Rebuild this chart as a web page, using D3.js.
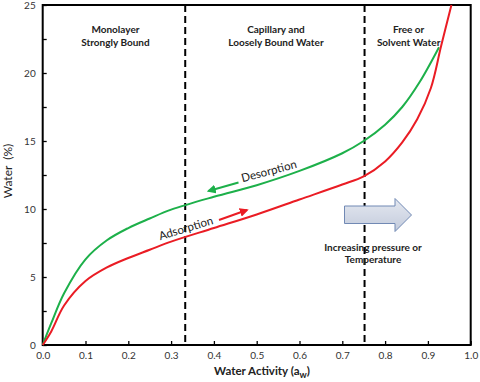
<!DOCTYPE html>
<html>
<head>
<meta charset="utf-8">
<script src="https://cdn.jsdelivr.net/npm/d3@7"></script>
<style>
  body { margin: 0; background: #fff; }
  svg text { font-family: Lato, "Open Sans", sans-serif; }
</style>
</head>
<body>
<div id="chart"></div>
<script>
// water activity (x) and moisture content (%)
let desorptionAw  = [0, 0.02, 0.05, 0.1, 0.15, 0.2, 0.25, 0.3, 0.4, 0.5, 0.6, 0.7, 0.75, 0.8, 0.84, 0.88, 0.926];
let desorptionWater = [0, 1.6, 3.8, 6.3, 7.7, 8.6, 9.3, 9.95, 10.9, 11.75, 12.8, 14.1, 15.0, 16.2, 17.5, 19.3, 21.9];

let adsorptionAw  = [0, 0.02, 0.05, 0.1, 0.15, 0.2, 0.25, 0.3, 0.4, 0.5, 0.6, 0.7, 0.75, 0.8, 0.84, 0.875, 0.907, 0.931, 0.955];
let adsorptionWater = [0, 1.0, 2.9, 4.7, 5.7, 6.4, 7.0, 7.6, 8.6, 9.6, 10.7, 11.8, 12.4, 13.5, 14.9, 16.6, 18.9, 22.0, 25];

let xTicks = [0, 0.1, 0.2, 0.3, 0.4, 0.5, 0.6, 0.7, 0.8, 0.9, 1.0];
let yTicks = [0, 2.5, 5, 7.5, 10, 12.5, 15, 17.5, 20, 22.5, 25];
let zoneBounds = [0.333, 0.752];

let zoneLabels = [
  {aw: 0.17, lines: ["Monolayer", "Strongly Bound"]},
  {aw: 0.545, lines: ["Capillary and", "Loosely Bound Water"]},
  {aw: 0.855, lines: ["Free or", "Solvent Water"]}
];

const W = 480, H = 382;
const m = {left: 42.7, right: 9.3, top: 5, bottom: 37};

let svg = d3.select("#chart").append("svg").attr("width", W).attr("height", H);

let x = d3.scaleLinear().domain([0, 1]).range([m.left, W - m.right]);
let y = d3.scaleLinear().domain([0, 25]).range([H - m.bottom, m.top]);

//axes with inward ticks
let xAxis = svg.append("g").attr("transform", `translate(0,${y(0)})`)
  .call(d3.axisBottom(x).tickValues(xTicks).tickFormat(d3.format(".1f")).tickSize(-4).tickPadding(7));
let yAxis = svg.append("g").attr("transform", `translate(${x(0)},0)`)
  .call(d3.axisLeft(y).tickValues(yTicks).tickFormat(d => d % 5 === 0 ? d : "").tickSize(-4).tickPadding(7));

[xAxis, yAxis].forEach(g => {
  g.select(".domain").remove();
  g.selectAll(".tick line").attr("stroke", "#000").attr("stroke-width", 1.3);
  g.selectAll(".tick text").attr("fill", "#333").style("font-size", "10px").style("font-family", "Lato, sans-serif");
});

// frame
svg.append("rect")
  .attr("x", x(0)).attr("y", y(25))
  .attr("width", x(1) - x(0)).attr("height", y(0) - y(25))
  .attr("fill", "none").attr("stroke", "#000").attr("stroke-width", 2);

// zone dividers
svg.selectAll(".zone").data(zoneBounds).enter().append("line")
  .attr("x1", d => x(d)).attr("x2", d => x(d))
  .attr("y1", y(25)).attr("y2", y(0))
  .attr("stroke", "#000").attr("stroke-width", 2).attr("stroke-dasharray", "7,4");

let line = d3.line().x(d => x(d[0])).y(d => y(d[1])).curve(d3.curveCatmullRom.alpha(0.5));

svg.append("path")
  .datum(d3.zip(desorptionAw, desorptionWater))
  .attr("d", line).attr("fill", "none").attr("stroke", "#1db04a").attr("stroke-width", 2);

svg.append("path")
  .datum(d3.zip(adsorptionAw, adsorptionWater))
  .attr("d", line).attr("fill", "none").attr("stroke", "#ea1c24").attr("stroke-width", 2);

// zone labels
zoneLabels.forEach(z => {
  let t = svg.append("text").attr("text-anchor", "middle")
    .style("font-size", "10px").style("font-weight", "bold").attr("fill", "#222");
  z.lines.forEach((s, i) => {
    t.append("tspan").attr("x", x(z.aw)).attr("y", 33 + i * 12.7).text(s);
  });
});

// small direction arrows
let defs = svg.append("defs");
[["green", "#1db04a"], ["red", "#ea1c24"]].forEach(([id, c]) => {
  defs.append("marker").attr("id", "head-" + id)
    .attr("viewBox", "0 0 10 10").attr("refX", 8).attr("refY", 5)
    .attr("markerWidth", 4.5).attr("markerHeight", 4.5).attr("orient", "auto")
    .append("path").attr("d", "M0,0L10,5L0,10z").attr("fill", c);
});

svg.append("line")
  .attr("x1", 238.5).attr("y1", 182.5).attr("x2", 208.5).attr("y2", 191)
  .attr("stroke", "#1db04a").attr("stroke-width", 2).attr("marker-end", "url(#head-green)");
svg.append("line")
  .attr("x1", 219).attr("y1", 220).attr("x2", 247).attr("y2", 210)
  .attr("stroke", "#ea1c24").attr("stroke-width", 2).attr("marker-end", "url(#head-red)");

svg.append("text").attr("transform", "translate(270,175) rotate(-15)")
  .attr("text-anchor", "middle").style("font-size", "11.5px").attr("fill", "#222").text("Desorption");
svg.append("text").attr("transform", "translate(187,232) rotate(-17)")
  .attr("text-anchor", "middle").style("font-size", "11.5px").attr("fill", "#222").text("Adsorption");

// block arrow
let grad = defs.append("linearGradient").attr("id", "blockFill").attr("x1", 0).attr("y1", 0).attr("x2", 0).attr("y2", 1);
grad.append("stop").attr("offset", "0%").attr("stop-color", "#e4e8f0");
grad.append("stop").attr("offset", "100%").attr("stop-color", "#c3cbdc");

svg.append("path")
  .attr("d", "M344.5,206L395,206L395,198.5L411.5,215L395,231.5L395,223.5L344.5,223.5Z")
  .attr("fill", "url(#blockFill)").attr("stroke", "#7189b4").attr("stroke-width", 1);

let note = svg.append("text").attr("text-anchor", "middle")
  .style("font-size", "10px").style("font-weight", "bold").attr("fill", "#222");
note.append("tspan").attr("x", 373).attr("y", 250.5).text("Increasing pressure or");
note.append("tspan").attr("x", 373).attr("y", 263).text("Temperature");

// axis titles
let xt = svg.append("text").attr("x", 262).attr("y", 375).attr("text-anchor", "middle")
  .style("font-size", "11.5px").style("font-weight", "bold").attr("fill", "#222");
xt.append("tspan").text("Water Activity (a");
xt.append("tspan").attr("dy", 3).style("font-size", "9px").text("w");
xt.append("tspan").attr("dy", -3).text(")");

svg.append("text").attr("transform", "translate(12,171) rotate(-90)")
  .attr("text-anchor", "middle").style("font-size", "12px").attr("fill", "#222")
  .style("white-space", "pre").attr("xml:space", "preserve").text("Water  (%)");
</script>
</body>
</html>
